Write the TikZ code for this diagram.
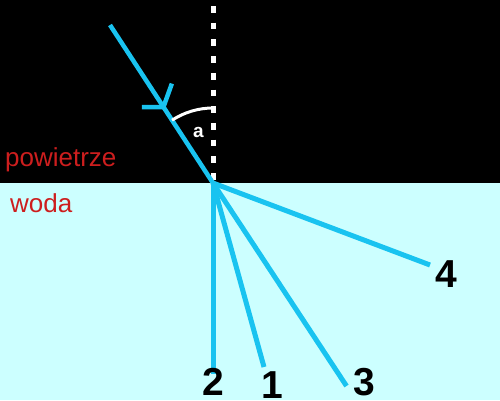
\documentclass[tikz,border=0pt]{standalone}
\usepackage{fontspec}
\setmainfont{Liberation Sans}
\usetikzlibrary{calc}
\definecolor{water}{RGB}{204,255,255}
\definecolor{raycol}{RGB}{25,195,240}
\definecolor{labred}{RGB}{205,30,30}
\begin{document}
\begin{tikzpicture}[x=1pt,y=-1pt,
  ray/.style={draw=raycol,line width=5pt},
  inray/.style={draw=raycol,line width=4.5pt},
  normalline/.style={draw=white,line width=5pt,dash pattern=on 6.7pt off 10pt},
  anglearc/.style={draw=white,line width=3pt},
  medium/.style={text=labred,inner sep=0pt,font=\fontsize{26}{31}\selectfont},
  raylabel/.style={text=black,inner sep=0pt,font=\bfseries\fontsize{39}{47}\selectfont},
  anglelabel/.style={text=white,inner sep=0pt,font=\bfseries\fontsize{19}{23}\selectfont}]
\useasboundingbox (0,0) rectangle (500,400);
\fill[black] (0,0) rectangle (500,183);
\fill[water] (0,183) rectangle (500,400);
% points
\coordinate (O) at (213,183);
\coordinate (src) at (110,25);
\coordinate (ntop) at (213.5,6);
\coordinate (nbot) at (213.5,183);
\coordinate (e1) at (264,367);
\coordinate (e2) at (213,374);
\coordinate (e3) at (346.5,386);
\coordinate (e4) at (430,265);
\coordinate (tip) at ($(src)!0.519!(O)$);
% normal
\draw[normalline] (ntop) -- (nbot);
% incident ray with open arrowhead
\draw[inray] (src) -- (O);
\draw[inray,line join=miter] ($(tip)+(8.4,-23.4)$) -- (tip) -- ($(tip)+(-21.6,0)$);
% angle arc
\draw[anglearc] ($(O)+(270:75)$) arc[start angle=270,end angle=236.9,radius=75];
\node[anglelabel] (a) at (198.5,132) {a};
% refracted / reflected rays
\draw[ray] (O) -- (e2);
\draw[ray] (O) -- (e1);
\draw[ray] (O) -- (e3);
\draw[ray] (O) -- (e4);
% labels
\node[medium,anchor=base west] (air) at (5,166) {powietrze};
\node[medium,anchor=base west] (wat) at (10,212) {woda};
\node[raylabel] (l2) at (213,381.5) {2};
\node[raylabel] (l1) at (272,385.5) {1};
\node[raylabel] (l3) at (364,382.5) {3};
\node[raylabel] (l4) at (446,274) {4};
\end{tikzpicture}
\end{document}
